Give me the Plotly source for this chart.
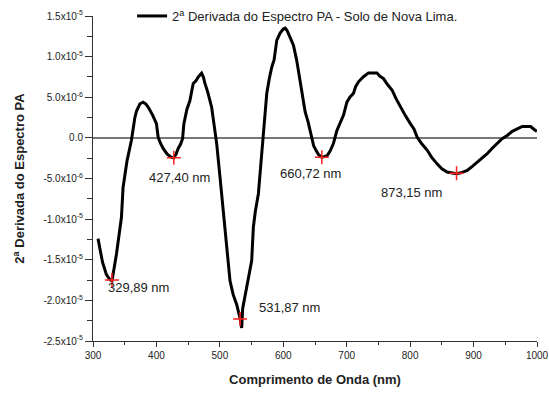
import plotly.graph_objects as go

# Second derivative of the photoacoustic spectrum (wavelength in nm, values in units of 1e-6)
wavelength = [307.9, 313, 315, 321, 326, 329.9, 337, 344.8, 347.4, 353.7, 360.6, 366, 368.6, 374, 379,
              383, 387, 394, 400, 402.7, 406, 410.6, 417, 423.8, 427.4, 431, 434.3, 438, 441.2, 443.3,
              448, 452.8, 456, 458, 462, 466, 471.2, 474, 476.5, 481, 487, 491, 495, 500.2, 504,
              508, 513.3, 516, 521, 526.5, 531.8, 534.4, 536, 542.3, 546, 550.2, 552.8, 556, 560.7,
              564, 568.6, 571, 574, 578, 581.8, 585.5, 589.7, 595, 600, 603, 606, 610, 616, 621,
              626, 634.5, 639, 642.3, 645, 648, 652, 656, 660.7, 665, 669, 674, 679, 684.5, 690,
              695, 700.3, 705, 710.7, 714, 718.6, 726, 734.4, 740, 747.7, 752, 758, 764, 771.4,
              778, 784.5, 792, 800.3, 806, 811, 818, 826.7, 834, 842.5, 850, 858.3, 866, 873.15,
              880, 890, 898, 905.7, 913, 921.5, 929, 937.3, 945, 953, 961, 968.9, 976.8, 984,
              990, 996, 1000]
deriv_e6 = [-12.4, -14.3, -15.3, -16.8, -17.4, -17.6, -14.3, -9.8, -6.1, -2.8, -0.3, 2.5, 3.3, 4.2, 4.4,
            4.2, 3.8, 2.8, 1.75, 0.1, -0.6, -1.3, -2.0, -2.4, -2.45, -2.0, -1.3, -0.8, -0.1, 1.75,
            3.5, 4.6, 5.8, 6.7, 7.0, 7.5, 7.95, 7.5, 6.7, 5.6, 3.8, 1.8, -0.7, -4.8, -8.0,
            -11.0, -15.1, -17.6, -19.3, -20.5, -22.2, -23.4, -21.0, -18.4, -16.8, -15.1, -11.0, -9.0, -6.9,
            -3.8, 0.1, 3.0, 5.5, 7.3, 8.7, 9.6, 12.0, 12.9, 13.4, 13.5, 13.2, 12.5, 11.4, 9.6,
            7.3, 3.2, 2.0, 0.9, -0.3, -1.0, -1.6, -2.1, -2.4, -2.3, -2.2, -1.6, -0.7, 0.9, 1.9,
            2.8, 4.4, 5.0, 5.5, 6.3, 6.9, 7.5, 8.0, 8.0, 8.0, 7.6, 7.3, 6.6, 5.9,
            4.8, 3.8, 2.8, 1.75, 1.1, 0.1, -0.7, -1.5, -2.4, -3.2, -3.8, -4.2, -4.35, -4.4,
            -4.3, -4.0, -3.5, -3.0, -2.5, -1.95, -1.3, -0.7, -0.1, 0.3, 0.8, 1.1, 1.4, 1.4,
            1.4, 1.0, 0.8]
deriv = [v * 1e-6 for v in deriv_e6]

# Marked minima
min_nm = [329.89, 427.40, 531.87, 660.72, 873.15]
min_val_e6 = [-17.5, -2.45, -22.3, -2.4, -4.35]
min_labels = ["329,89 nm", "427,40 nm", "531,87 nm", "660,72 nm", "873,15 nm"]
# label anchor points (left edge, vertical centre) in data units
label_x = [321.2, 385.3, 558.0, 592.3, 750.2]
label_y_e6 = [-18.4, -4.9, -20.9, -4.35, -6.7]

y_ticks = [1.5e-5, 1.0e-5, 5.0e-6, 0.0, -5.0e-6, -1.0e-5, -1.5e-5, -2.0e-5, -2.5e-5]
y_ticktext = ["1.5x10<sup>-5</sup>", "1.0x10<sup>-5</sup>", "5.0x10<sup>-6</sup>", "0.0",
              "-5.0x10<sup>-6</sup>", "-1.0x10<sup>-5</sup>", "-1.5x10<sup>-5</sup>",
              "-2.0x10<sup>-5</sup>", "-2.5x10<sup>-5</sup>"]
x_ticks = [300, 400, 500, 600, 700, 800, 900, 1000]

FONT = "Arial, Liberation Sans, sans-serif"

fig = go.Figure()
fig.add_trace(go.Scatter(
    x=wavelength, y=deriv, mode="lines",
    line=dict(color="black", width=3),
    name="2<sup>a</sup> Derivada do Espectro PA - Solo de Nova Lima.",
))
fig.add_trace(go.Scatter(
    x=min_nm, y=[v * 1e-6 for v in min_val_e6], mode="markers",
    marker=dict(symbol="cross-thin", size=10, line=dict(color="#ff2020", width=1.5)),
    showlegend=False,
))
for lx, ly, txt in zip(label_x, label_y_e6, min_labels):
    fig.add_annotation(x=lx, y=ly * 1e-6, text=txt, showarrow=False,
                       xanchor="left", yanchor="middle",
                       font=dict(family=FONT, size=13, color="#222"))

fig.update_layout(
    width=549, height=394,
    margin=dict(l=93, r=12, t=16, b=53, autoexpand=False),
    paper_bgcolor="white", plot_bgcolor="white",
    font=dict(family=FONT, color="#222"),
    legend=dict(x=0.088, y=1.0, xanchor="left", yanchor="middle",
                bgcolor="rgba(0,0,0,0)", font=dict(size=13, color="#222")),
    xaxis=dict(range=[300, 1000], tickvals=x_ticks, showgrid=False, automargin=False,
               showline=True, linecolor="#333", linewidth=1,
               ticks="outside", ticklen=5, tickcolor="#333",
               minor=dict(dtick=50, ticks="outside", ticklen=3, tickcolor="#333"),
               tickfont=dict(size=10),
               title=dict(text="<b>Comprimento de Onda (nm)</b>", font=dict(size=13), standoff=14),
               zeroline=False),
    yaxis=dict(range=[-2.5e-5, 1.5e-5], tickvals=y_ticks, ticktext=y_ticktext, showgrid=False,
               automargin=False,
               showline=True, linecolor="#333", linewidth=1,
               ticks="outside", ticklen=7, tickcolor="#333",
               minor=dict(dtick=2.5e-6, ticks="outside", ticklen=5, tickcolor="#333"),
               tickfont=dict(size=10),
               title=dict(text="<b>2<sup>a</sup> Derivada do Espectro PA</b>", font=dict(size=13), standoff=15),
               zeroline=True, zerolinecolor="#777", zerolinewidth=1.5),
)

fig.write_html("out.html")
